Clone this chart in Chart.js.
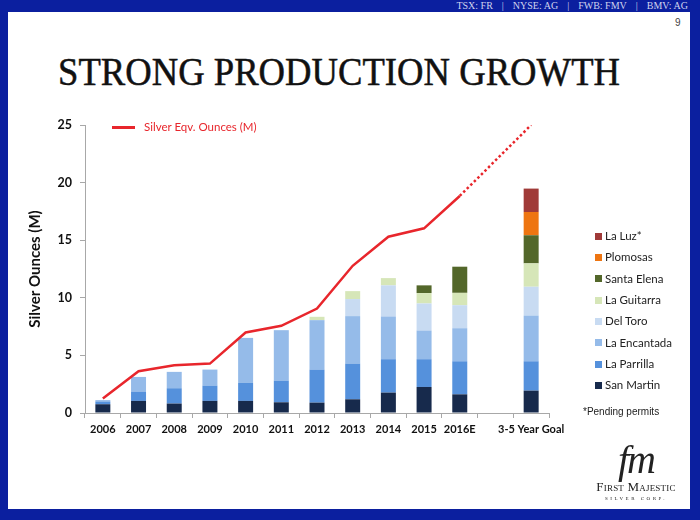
<!DOCTYPE html>
<html>
<head>
<meta charset="utf-8">
<script src="https://cdn.jsdelivr.net/npm/chart.js@4.4.1/dist/chart.umd.min.js"></script>
<style>
html, body { margin: 0; padding: 0; }
body { width: 700px; height: 520px; position: relative; overflow: hidden; background: #0b1f9f; font-family: Lato, sans-serif; }
#slide { position: absolute; left: 8px; top: 12px; width: 682px; height: 497px; background: #fff; }
#ticker { position: absolute; right: 12px; top: 0; height: 12px; line-height: 12px; font-family: "Liberation Serif", serif; font-size: 10px; color: #cfd3ee; white-space: nowrap; }
#ticker span.sep { margin: 0 9px; }
#page { position: absolute; left: 675px; top: 17px; font-family: "Liberation Sans", sans-serif; font-size: 10px; color: #444; }
#title { position: absolute; left: 58px; top: 52px; line-height: 39px; font-family: "Liberation Serif", serif; font-size: 39px; color: #111; -webkit-text-stroke: 0.5px #111; white-space: nowrap; transform-origin: 0 0; }
#wrap { position: absolute; left: 0; top: 0; width: 700px; height: 520px; }
#lineKey { position: absolute; left: 112px; top: 120px; height: 16px; font-size: 11.5px; color: #e8262c; white-space: nowrap; }
#lineKey i { display: inline-block; width: 23px; height: 3px; background: #e8262c; vertical-align: middle; margin-right: 9px; position: relative; top: -1px; }
#barKey { position: absolute; left: 595px; top: 229px; font-size: 11.5px; color: #222; }
#barKey div { height: 21.35px; line-height: 14px; white-space: nowrap; }
#barKey b { display: inline-block; width: 7px; height: 7px; margin-right: 3px; vertical-align: middle; position: relative; top: -1px; }
#note { position: absolute; left: 583px; top: 406px; font-family: "Liberation Sans", sans-serif; font-size: 10px; color: #222; }
#logo { position: absolute; left: 590px; top: 440px; width: 92px; text-align: center; color: #222; }
#logo .fm { font-family: "Liberation Serif", serif; font-style: italic; font-size: 40px; line-height: 40px; letter-spacing: -2px; }
#logo .name { font-family: "Liberation Serif", serif; font-size: 13px; line-height: 13px; font-variant: small-caps; letter-spacing: 0.2px; }
#logo .corp { font-family: "Liberation Serif", serif; font-size: 5px; letter-spacing: 2.5px; margin-top: 3px; }
</style>
</head>
<body>
<div id="slide"></div>
<div id="ticker">TSX: FR<span class="sep">|</span>NYSE: AG<span class="sep">|</span>FWB: FMV<span class="sep">|</span>BMV: AG</div>
<div id="page">9</div>
<div id="title">STRONG PRODUCTION GROWTH</div>
<div id="wrap"><canvas id="chart"></canvas></div>
<div id="lineKey"><i></i>Silver Eqv. Ounces (M)</div>
<div id="barKey"></div>
<div id="note">*Pending permits</div>
<div id="logo">
  <div class="fm">fm</div>
  <div class="name">First Majestic</div>
  <div class="corp">SILVER CORP.</div>
</div>
<script>
// Data (millions of ounces)
const categories = ['2006', '2007', '2008', '2009', '2010', '2011', '2012', '2013', '2014', '2015', '2016E', '', '3-5 Year Goal'];

const sanMartin   = [0.76, 1.05, 0.82, 1.05, 1.05, 0.93, 0.90, 1.19, 1.77, 2.26, 1.62, null, 1.94];
const laParrilla  = [0.24, 0.81, 1.33, 1.33, 1.56, 1.88, 2.87, 3.10, 2.90, 2.41, 2.87, null, 2.55];
const laEncantada = [0.12, 1.27, 1.42, 1.39, 3.91, 4.38, 4.29, 4.12, 3.71, 2.49, 2.87, null, 3.97];
const delToro     = [null, null, null, null, null, null, null, 1.48, 2.70, 2.35, 2.00, null, 2.50];
const laGuitarra  = [null, null, null, null, null, null, 0.29, 0.69, 0.63, 0.90, 1.07, null, 2.03];
const santaElena  = [null, null, null, null, null, null, null, null, null, 0.67, 2.27, null, 2.44];
const plomosas    = [null, null, null, null, null, null, null, null, null, null, null, null, 2.02];
const laLuz       = [null, null, null, null, null, null, null, null, null, null, null, null, 2.03];

const silverEqv       = [1.25, 3.63, 4.15, 4.29, 6.99, 7.57, 9.07, 12.78, 15.30, 16.03, 18.84, null, null];
const silverEqvTarget = [null, null, null, null, null, null, null, null, null, null, 18.84, null, 25.0];

const yTicks = [0, 5, 10, 15, 20, 25];

const mines = [
    { name: 'San Martin',   data: sanMartin,   color: '#172a4c' },
    { name: 'La Parrilla',  data: laParrilla,  color: '#5591dc' },
    { name: 'La Encantada', data: laEncantada, color: '#95bbe9' },
    { name: 'Del Toro',     data: delToro,     color: '#c8dbf2' },
    { name: 'La Guitarra',  data: laGuitarra,  color: '#d6e6b8' },
    { name: 'Santa Elena',  data: santaElena,  color: '#53672a' },
    { name: 'Plomosas',     data: plomosas,    color: '#ee7511' },
    { name: 'La Luz*',      data: laLuz,       color: '#a03a38' }
];

const RED = '#e8262c';
const AXIS = '#a8a8a8';

// Title width fit
const titleEl = document.getElementById('title');
titleEl.style.transform = `scaleX(${562 / titleEl.offsetWidth})`;

// Bar legend (top = last series)
document.getElementById('barKey').innerHTML = mines.slice().reverse().map(m =>
    `<div><b style="background:${m.color}"></b>${m.name}</div>`
).join('');

Chart.defaults.font.family = 'Lato';

const datasets = mines.map(m => ({
    type: 'bar',
    label: m.name,
    data: m.data,
    backgroundColor: m.color,
    borderWidth: 0,
    categoryPercentage: 1,
    barPercentage: 0.42,
    stack: 'mines',
    order: 1
}));

datasets.push({
    type: 'line',
    label: 'Silver Eqv. Ounces (M)',
    data: silverEqv,
    borderColor: RED,
    borderWidth: 2.5,
    pointRadius: 0,
    tension: 0,
    fill: false,
    stack: 'solid',
    order: 0
});

datasets.push({
    type: 'line',
    label: 'Silver Eqv. Target',
    data: silverEqvTarget,
    borderColor: RED,
    borderWidth: 2.5,
    borderDash: [2.5, 2.5],
    pointRadius: 0,
    tension: 0,
    fill: false,
    spanGaps: true,
    stack: 'dotted',
    order: 0
});

const ctx = document.getElementById('chart').getContext('2d');
const chart = new Chart(ctx, {
    data: { labels: categories, datasets: datasets },
    options: {
        responsive: true,
        maintainAspectRatio: false,
        animation: false,
        layout: { padding: { left: 26, right: 151, top: 125, bottom: 77 } },
        plugins: { legend: { display: false }, tooltip: { enabled: false } },
        scales: {
            x: {
                stacked: true,
                grid: { display: true, drawOnChartArea: false, drawTicks: true, tickLength: 5, color: AXIS, offset: true },
                border: { display: true, color: AXIS, width: 1 },
                ticks: { color: '#111', font: { size: 11, weight: 'bold' }, padding: 5, maxRotation: 0, autoSkip: false },
                afterFit: s => { s.height = 30; }
            },
            y: {
                stacked: true,
                min: 0,
                max: 25,
                afterBuildTicks: s => { s.ticks = yTicks.map(v => ({ value: v })); },
                grid: { display: true, drawOnChartArea: false, drawTicks: true, tickLength: 5, color: AXIS },
                border: { display: true, color: AXIS, width: 1 },
                ticks: { color: '#111', font: { size: 12.5, weight: 'bold' }, padding: 8 },
                title: { display: true, text: 'Silver Ounces (M)', color: '#111', font: { size: 15, weight: 'bold' }, padding: 0 },
                afterFit: s => { s.width = 59; }
            }
        }
    }
});
</script>
</body>
</html>
